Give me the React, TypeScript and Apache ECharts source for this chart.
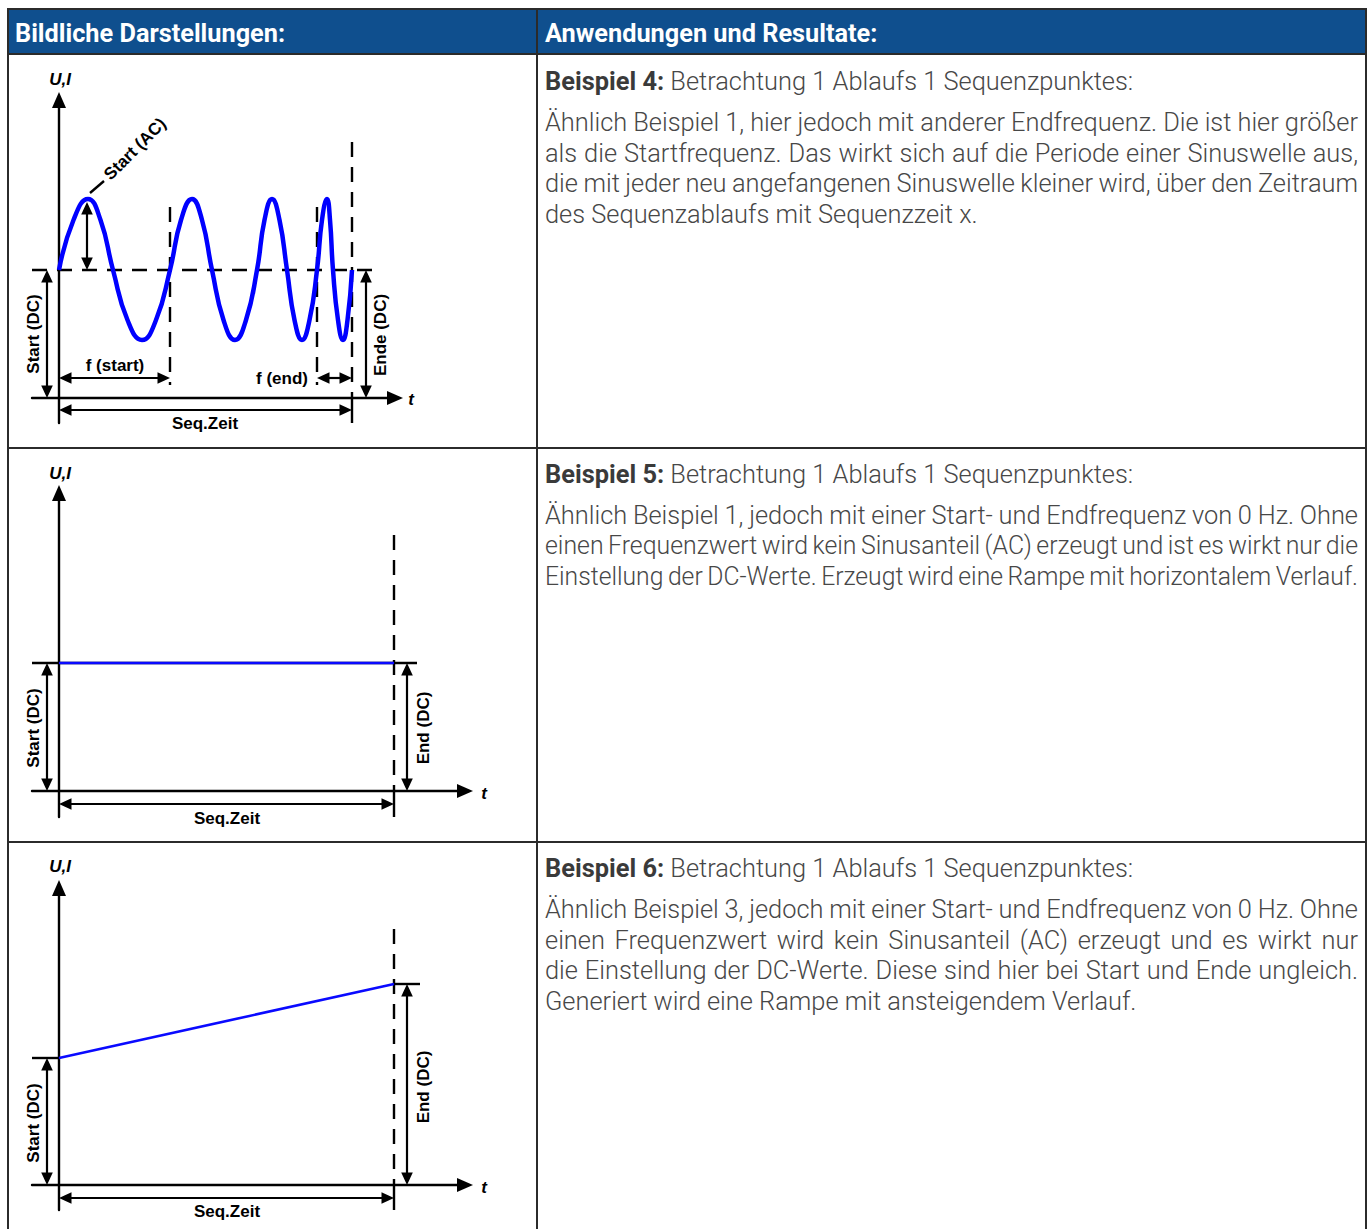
import React, { useEffect, useRef } from 'react';
import * as echarts from 'echarts';

// ---------- Table texts ----------
const headerTexts = ['Bildliche Darstellungen:', 'Anwendungen und Resultate:'];
const exampleTitles = ['Beispiel 4:', 'Beispiel 5:', 'Beispiel 6:'];
const exampleIntro = 'Betrachtung 1 Ablaufs 1 Sequenzpunktes:';
const paragraphLines = [
  [
    'Ähnlich Beispiel 1, hier jedoch mit anderer Endfrequenz. Die ist hier größer',
    'als die Startfrequenz. Das wirkt sich auf die Periode einer Sinuswelle aus,',
    'die mit jeder neu angefangenen Sinuswelle kleiner wird, über den Zeitraum',
    'des Sequenzablaufs mit Sequenzzeit x.',
  ],
  [
    'Ähnlich Beispiel 1, jedoch mit einer Start- und Endfrequenz von 0 Hz. Ohne',
    'einen Frequenzwert wird kein Sinusanteil (AC) erzeugt und ist es wirkt nur die',
    'Einstellung der DC-Werte. Erzeugt wird eine Rampe mit horizontalem Verlauf.',
  ],
  [
    'Ähnlich Beispiel 3, jedoch mit einer Start- und Endfrequenz von 0 Hz. Ohne',
    'einen Frequenzwert wird kein Sinusanteil (AC) erzeugt und es wirkt nur',
    'die Einstellung der DC-Werte. Diese sind hier bei Start und Ende ungleich.',
    'Generiert wird eine Rampe mit ansteigendem Verlauf.',
  ],
];
const lastLineJustified = [false, true, false];

// ---------- Diagram 1 (Beispiel 4): sine on DC level, rising frequency ----------
const wave4T = [0, 14.5, 29, 41.5, 54, 68.5, 83, 97, 111, 122, 133, 143, 153, 164.5, 176, 187, 198, 205.5, 213, 220.5, 228, 235.5, 243, 250.5, 258, 263, 268, 271, 274, 279, 284, 288.5, 293];
const wave4V = [128, 178, 199, 178, 128, 78, 58, 78, 128, 178, 199, 178, 128, 78, 58, 78, 128, 178, 199, 178, 128, 78, 58, 78, 128, 178, 199, 178, 128, 78, 58, 78, 128];
const dc4 = 128;
const acPeak4 = 199;
const seq4 = 293;
const fStartEnd4 = 111;
const fEndStart4 = 258;

// ---------- Diagram 2 (Beispiel 5): flat ramp ----------
const ramp5T = [0, 335];
const ramp5V = [128, 128];

// ---------- Diagram 3 (Beispiel 6): rising ramp ----------
const ramp6T = [0, 335];
const ramp6V = [127, 201];

// axis ranges (t, level) per diagram
const tRanges = [[-27, 336], [-27, 406], [-27, 406]];
const vRanges = [[-25, 298], [-26, 298], [-25, 297]];

type Seg = [number, number, number, number, number];
type Arrow = [number, number, number, number];
type Lbl = { text: string; t: number; v: number; rot?: number; italic?: boolean; align?: string };

const segs1: Seg[] = [
  [-27, dc4, 314, dc4, 1],
  [fStartEnd4, 191, fStartEnd4, 13, 1],
  [fEndStart4, 191, fEndStart4, 13, 1],
  [seq4, 256, seq4, 0, 1],
  [seq4, 0, seq4, -25, 0],
  [31, 205, 45, 217, 0],
];
const arrows1: Arrow[] = [
  [-12, 0, -12, dc4],
  [307, 0, 307, dc4],
  [28, dc4, 28, acPeak4 - 3],
  [0, 20, fStartEnd4, 20],
  [fEndStart4, 20, seq4, 20],
  [0, -12, seq4, -12],
];
const labels1: Lbl[] = [
  { text: 'U,I', t: 1, v: 319, italic: true },
  { text: 't', t: 352, v: -1, italic: true },
  { text: 'Start (DC)', t: -26, v: 64, rot: 90 },
  { text: 'Ende (DC)', t: 321, v: 63, rot: 90 },
  { text: 'f (start)', t: 56, v: 33 },
  { text: 'f (end)', t: 249, v: 20, align: 'right' },
  { text: 'Seq.Zeit', t: 146, v: -25 },
  { text: 'Start (AC)', t: 76, v: 249, rot: 45 },
];

const segs2: Seg[] = [
  [-27, ramp5V[0], 358, ramp5V[1], 0],
  [ramp5T[1], 256, ramp5T[1], 0, 1],
  [ramp5T[1], 0, ramp5T[1], -26, 0],
];
const arrows2: Arrow[] = [
  [-12, 0, -12, ramp5V[0]],
  [348, 0, 348, ramp5V[1]],
  [0, -13, ramp5T[1], -13],
];
const labels2: Lbl[] = [
  { text: 'U,I', t: 1, v: 318, italic: true },
  { text: 't', t: 425, v: -2, italic: true },
  { text: 'Start (DC)', t: -26, v: 63, rot: 90 },
  { text: 'End (DC)', t: 364, v: 63, rot: 90 },
  { text: 'Seq.Zeit', t: 168, v: -27 },
];

const segs3: Seg[] = [
  [-27, ramp6V[0], 0, ramp6V[0], 0],
  [ramp6T[1], ramp6V[1], 361, ramp6V[1], 0],
  [ramp6T[1], 256, ramp6T[1], 0, 1],
  [ramp6T[1], 0, ramp6T[1], -25, 0],
];
const arrows3: Arrow[] = [
  [-12, 0, -12, ramp6V[0]],
  [348, 0, 348, ramp6V[1]],
  [0, -13, ramp6T[1], -13],
];
const labels3: Lbl[] = [
  { text: 'U,I', t: 1, v: 319, italic: true },
  { text: 't', t: 425, v: -2, italic: true },
  { text: 'Start (DC)', t: -26, v: 62, rot: 90 },
  { text: 'End (DC)', t: 364, v: 98, rot: 90 },
  { text: 'Seq.Zeit', t: 168, v: -26 },
];

const LABEL_FONT = 'Liberation Sans, Arial, sans-serif';
const BODY_FONT = 'Roboto';

function segRender(params: any, api: any) {
  const a = api.coord([api.value(0), api.value(1)]);
  const b = api.coord([api.value(2), api.value(3)]);
  const dashed = api.value(4) === 1;
  return {
    type: 'line',
    shape: { x1: a[0], y1: a[1], x2: b[0], y2: b[1] },
    style: { stroke: '#000', lineWidth: 2.4, lineDash: dashed ? [15, 10] : null },
  };
}

function arrowRender(params: any, api: any) {
  const a = api.coord([api.value(0), api.value(1)]);
  const b = api.coord([api.value(2), api.value(3)]);
  const dx = b[0] - a[0];
  const dy = b[1] - a[1];
  const len = Math.hypot(dx, dy) || 1;
  const ux = dx / len, uy = dy / len;
  const nx = -uy, ny = ux;
  const L = 12.5, Wd = 5.8;
  const head = (p: number[], s: number) => [
    [p[0], p[1]],
    [p[0] - s * ux * L + nx * Wd, p[1] - s * uy * L + ny * Wd],
    [p[0] - s * ux * L - nx * Wd, p[1] - s * uy * L - ny * Wd],
  ];
  return {
    type: 'group',
    children: [
      { type: 'line', shape: { x1: a[0] + ux * 4, y1: a[1] + uy * 4, x2: b[0] - ux * 4, y2: b[1] - uy * 4 }, style: { stroke: '#000', lineWidth: 2.2 } },
      { type: 'polygon', shape: { points: head(b, 1) }, style: { fill: '#000' } },
      { type: 'polygon', shape: { points: head(a, -1) }, style: { fill: '#000' } },
    ],
  };
}

function makeLabelRender(labels: Lbl[]) {
  return (params: any, api: any) => {
    const l = labels[api.value(2)];
    const p = api.coord([api.value(0), api.value(1)]);
    return {
      type: 'text',
      x: p[0],
      y: p[1],
      rotation: ((l.rot || 0) * Math.PI) / 180,
      style: {
        text: l.text,
        fill: '#000',
        fontFamily: LABEL_FONT,
        fontWeight: 'bold',
        fontStyle: l.italic ? 'italic' : 'normal',
        fontSize: 17,
        align: l.align || 'center',
        verticalAlign: 'middle',
        textAlign: l.align || 'center',
        textVerticalAlign: 'middle',
      },
    };
  };
}

export default function App() {
  const ref = useRef<HTMLDivElement>(null);
  useEffect(() => {
    const el = ref.current!;
    const chart = echarts.init(el, null, { renderer: 'svg' });
    const ctx = document.createElement('canvas').getContext('2d')!;
    const measure = (text: string, weight: number | string, size: number) => {
      ctx.font = `${weight} ${size}px ${BODY_FONT}`;
      return ctx.measureText(text).width;
    };

    const grids = [
      { left: 32, top: 100, width: 363, height: 323 },
      { left: 32, top: 493, width: 433, height: 324 },
      { left: 32, top: 888, width: 433, height: 322 },
    ];
    const axisLine = {
      onZero: true,
      symbol: ['none', 'triangle'],
      symbolSize: [14, 16],
      lineStyle: { color: '#000', width: 2.4 },
    };
    const xAxis = grids.map((g, i) => ({
      type: 'value', gridIndex: i, min: tRanges[i][0], max: tRanges[i][1],
      axisLine, axisTick: { show: false }, axisLabel: { show: false }, splitLine: { show: false },
    }));
    const yAxis = grids.map((g, i) => ({
      type: 'value', gridIndex: i, min: vRanges[i][0], max: vRanges[i][1],
      axisLine, axisTick: { show: false }, axisLabel: { show: false }, splitLine: { show: false },
    }));

    const series: any[] = [];
    const diag = [
      { segs: segs1, arrows: arrows1, labels: labels1 },
      { segs: segs2, arrows: arrows2, labels: labels2 },
      { segs: segs3, arrows: arrows3, labels: labels3 },
    ];
    diag.forEach((d, i) => {
      series.push({
        type: 'custom', coordinateSystem: 'cartesian2d', xAxisIndex: i, yAxisIndex: i, silent: true,
        data: d.segs, renderItem: segRender, encode: { x: [0, 2], y: [1, 3] }, z: 2,
      });
      series.push({
        type: 'custom', coordinateSystem: 'cartesian2d', xAxisIndex: i, yAxisIndex: i, silent: true,
        data: d.arrows, renderItem: arrowRender, encode: { x: [0, 2], y: [1, 3] }, z: 2,
      });
      series.push({
        type: 'custom', coordinateSystem: 'cartesian2d', xAxisIndex: i, yAxisIndex: i, silent: true,
        data: d.labels.map((l, k) => [l.t, l.v, k]), renderItem: makeLabelRender(d.labels), encode: { x: 0, y: 1 }, z: 4,
      });
    });
    series.push({
      type: 'line', xAxisIndex: 0, yAxisIndex: 0, smooth: 0.5, symbol: 'none', silent: true, z: 3,
      data: wave4T.map((t, k) => [t, wave4V[k]]),
      lineStyle: { color: '#0000ff', width: 4.5 },
    });
    series.push({
      type: 'line', xAxisIndex: 1, yAxisIndex: 1, symbol: 'none', silent: true, z: 3,
      data: ramp5T.map((t, k) => [t, ramp5V[k]]),
      lineStyle: { color: '#0a0aff', width: 2.6 },
    });
    series.push({
      type: 'line', xAxisIndex: 2, yAxisIndex: 2, symbol: 'none', silent: true, z: 3,
      data: ramp6T.map((t, k) => [t, ramp6V[k]]),
      lineStyle: { color: '#0a0aff', width: 2.6 },
    });

    // ---------- table graphics ----------
    const border = '#2b2b2b';
    const graphic: any[] = [];
    graphic.push({ type: 'rect', shape: { x: 8, y: 9, width: 1358, height: 45 }, style: { fill: '#0f4f8e', stroke: border, lineWidth: 2 }, z: 1 });
    const lines = [
      [8, 9, 8, 1240], [1366, 9, 1366, 1240], [537, 9, 537, 1240],
      [8, 448, 1366, 448], [8, 842, 1366, 842],
    ];
    lines.forEach((l) => graphic.push({ type: 'line', shape: { x1: l[0], y1: l[1], x2: l[2], y2: l[3] }, style: { stroke: border, lineWidth: 2 }, z: 2 }));
    const textEl = (text: string, x: number, y: number, size: number, weight: any, fill: string, scaleX = 1) => ({
      type: 'text', x, y, z: 5, scaleX,
      style: { text, fill, fontFamily: BODY_FONT, fontSize: size, fontWeight: weight, align: 'left', verticalAlign: 'middle', textAlign: 'left', textVerticalAlign: 'middle' },
    });
    graphic.push(textEl(headerTexts[0], 15, 33, 25.3, 'bold', '#fff'));
    graphic.push(textEl(headerTexts[1], 545, 33, 25.3, 'bold', '#fff'));

    const rowTops = [55, 448, 842];
    const BODY_SIZE = 25.4;
    const MIN_GAP = 4.5;
    const left = 545, right = 1358;
    const titleColor = '#3a3a3a', bodyColor = '#474747';
    rowTops.forEach((top, r) => {
      const ty = top + 26;
      graphic.push(textEl(exampleTitles[r], left, ty, BODY_SIZE, 'bold', titleColor));
      const wb = measure(exampleTitles[r], 'bold', BODY_SIZE);
      const ws = measure(' ', 300, BODY_SIZE);
      graphic.push(textEl(exampleIntro, left + wb + ws, ty, BODY_SIZE, 300, bodyColor));
      const lines = paragraphLines[r];
      lines.forEach((line, li) => {
        const y = top + 67 + li * 30.5;
        const isLast = li === lines.length - 1;
        if (isLast && !lastLineJustified[r]) {
          graphic.push(textEl(line, left, y, BODY_SIZE, 300, bodyColor));
          return;
        }
        const words = line.split(' ');
        const raw = words.map((w) => measure(w, 300, BODY_SIZE));
        const rawTotal = raw.reduce((a, b) => a + b, 0);
        const avail = right - left;
        let sx = 1;
        if (rawTotal + MIN_GAP * (words.length - 1) > avail) {
          sx = (avail - MIN_GAP * (words.length - 1)) / rawTotal;
        }
        const widths = raw.map((w) => w * sx);
        const total = widths.reduce((a, b) => a + b, 0);
        const gap = (avail - total) / (words.length - 1);
        let x = left;
        words.forEach((w, k) => {
          graphic.push(textEl(w, x, y, BODY_SIZE, 300, bodyColor, sx));
          x += widths[k] + gap;
        });
      });
    });

    chart.setOption({
      animation: false,
      backgroundColor: '#fff',
      grid: grids,
      xAxis,
      yAxis,
      series,
      graphic,
    });
    return () => chart.dispose();
  }, []);
  return <div ref={ref} style={{ position: 'absolute', left: 0, top: 0, width: 1368, height: 1229, background: '#fff' }} />;
}
